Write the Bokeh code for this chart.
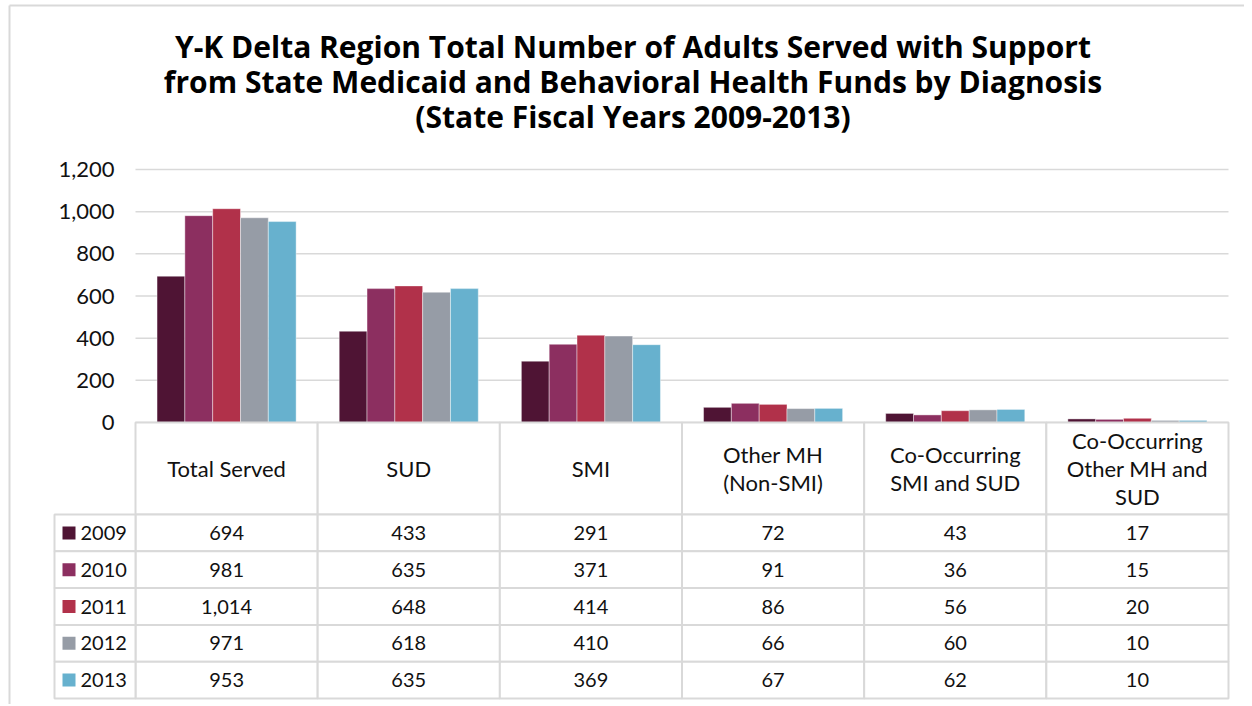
from bokeh.plotting import figure
from bokeh.models import Range1d, NumeralTickFormatter, FixedTicker, ColumnDataSource
from bokeh.transform import dodge
from bokeh.embed import file_html
from bokeh.resources import INLINE
from bokeh.core.properties import value

# ---------------- data ----------------
title_lines = [
    "Y-K Delta Region Total Number of Adults Served with Support",
    "from State Medicaid and Behavioral Health Funds by Diagnosis",
    "(State Fiscal Years 2009-2013)",
]
categories = ["Total Served", "SUD", "SMI", "Other MH (Non-SMI)",
              "Co-Occurring SMI and SUD", "Co-Occurring Other MH and SUD"]
header_labels = ["Total Served", "SUD", "SMI", "Other MH\n(Non-SMI)",
                 "Co-Occurring\nSMI and SUD", "Co-Occurring\nOther MH and\nSUD"]
years = ["2009", "2010", "2011", "2012", "2013"]
values_2009 = [694, 433, 291, 72, 43, 17]
values_2010 = [981, 635, 371, 91, 36, 15]
values_2011 = [1014, 648, 414, 86, 56, 20]
values_2012 = [971, 618, 410, 66, 60, 10]
values_2013 = [953, 635, 369, 67, 62, 10]
series = [values_2009, values_2010, values_2011, values_2012, values_2013]
y_ticks = [0, 200, 400, 600, 800, 1000, 1200]
y_max = 1200

# ---------------- style ----------------
colors = ["#4f1434", "#8c2f60", "#b1314a", "#969ca6", "#67b1ce"]
FONT = "Lato"
TITLE_FONT = "Open Sans"
TEXT = "#111111"
GRID = "#d9d9d9"

# ---------------- layout constants (pixels) ----------------
W, H = 1244, 704
CAT_L, CAT_R = 135, 1228   # horizontal extent of the category area
GRID_TOP = 169             # vertical pixel of y_max
ZERO_PX = 422              # vertical pixel of value 0 (top of table)
TABLE_B = 698              # bottom of the table
ROW_PX = 36.8              # height of a data row in the table
LEGEND_PX = 81             # width of the legend column of the table
BAR_FRAC = 0.1527          # bar width as a fraction of a category
TITLE_X, TITLE_Y = 632.5, 81
BORDER_X, BORDER_Y = 9, 5

n_cat = len(categories)
n_yr = len(years)
col_px = (CAT_R - CAT_L) / n_cat
val_per_px = y_max / (ZERO_PX - GRID_TOP)


def px_x(px):
    return (px - CAT_L) / col_px


def px_y(py):
    return (ZERO_PX - py) * val_per_px


def px_row(py):
    return (TABLE_B - py) / ROW_PX


legend_col = LEGEND_PX / col_px
header_rows = px_row(ZERO_PX) - n_yr

p = figure(width=W, height=H, x_range=Range1d(px_x(0), px_x(W)),
           y_range=Range1d(px_y(H), px_y(0)), output_backend="svg", toolbar_location=None,
           min_border_left=0, min_border_right=0, min_border_top=0, min_border_bottom=0)
p.extra_y_ranges = {"table": Range1d(px_row(H), px_row(0))}
p.title.visible = False
p.xaxis.visible = False
p.grid.visible = False
p.outline_line_color = None

# outer light frame
p.segment(x0=[px_x(BORDER_X)] * 2, y0=[px_y(BORDER_Y)] * 2,
          x1=[px_x(W), px_x(BORDER_X)], y1=[px_y(BORDER_Y), px_y(H)],
          line_color=GRID, line_width=2)

# y axis placed at the left edge of the categories
p.yaxis.fixed_location = 0
p.yaxis.ticker = FixedTicker(ticks=y_ticks)
p.yaxis.formatter = NumeralTickFormatter(format="0,0")
p.yaxis.axis_line_color = None
p.yaxis.major_tick_line_color = None
p.yaxis.minor_tick_line_color = None
p.yaxis.major_label_text_font = FONT
p.yaxis.major_label_text_font_size = "22px"
p.yaxis.major_label_text_color = TEXT
p.yaxis.major_label_standoff = 15

# title
p.text(x=[px_x(TITLE_X)], y=[px_y(TITLE_Y)], text=["\n".join(title_lines)],
       text_align="center", text_baseline="middle", text_font=value(TITLE_FONT),
       text_font_size="30px", text_font_style="bold", text_color="#000000",
       text_line_height=0.86)

# gridlines across the category area
p.segment(x0=0, x1=n_cat, y0=y_ticks, y1=y_ticks, line_color=GRID, line_width=1.5)

# bars
col_centers = [i + 0.5 for i in range(n_cat)]
data = dict(xc=col_centers, cat=categories, header=header_labels)
for yr, s in zip(years, series):
    data[yr] = s
src = ColumnDataSource(data)
offsets = [(k - (n_yr - 1) / 2) * BAR_FRAC for k in range(n_yr)]
for yr, col, off in zip(years, colors, offsets):
    p.vbar(x=dodge("xc", off), top=yr, width=BAR_FRAC, source=src,
           fill_color=col, line_color="white", line_width=0.6, line_alpha=0.7)

# table: header row
p.quad(left=[i for i in range(n_cat)], right=[i + 1 for i in range(n_cat)],
       bottom=n_yr, top=n_yr + header_rows, y_range_name="table",
       fill_color="white", line_color=GRID, line_width=2)
p.text(x="xc", y=n_yr + header_rows / 2, text="header", source=src, y_range_name="table",
       text_align="center", text_baseline="middle", text_font=value(FONT),
       text_font_size="22px", text_color=TEXT, text_line_height=1.04)

# table: data rows
row_centers = [n_yr - r - 0.5 for r in range(n_yr)]
cell_x, cell_y, cell_text = [], [], []
for r, s in enumerate(series):
    for i, v in enumerate(s):
        cell_x.append(col_centers[i])
        cell_y.append(row_centers[r])
        cell_text.append(f"{v:,}")

p.rect(x=cell_x, y=cell_y, width=1, height=1, y_range_name="table",
       fill_color="white", line_color=GRID, line_width=2)
p.rect(x=[-legend_col / 2] * n_yr, y=row_centers, width=legend_col, height=1,
       y_range_name="table", fill_color="white", line_color=GRID, line_width=2)
p.text(x=cell_x, y=cell_y, text=cell_text, y_range_name="table", text_align="center",
       text_baseline="middle", text_font=value(FONT), text_font_size="20px", text_color=TEXT)
p.scatter(x=[-legend_col + 14.5 / col_px] * n_yr, y=row_centers, y_range_name="table",
          marker="square", size=13, fill_color=colors, line_color=None)
p.text(x=[-legend_col + 26 / col_px] * n_yr, y=row_centers, text=years, y_range_name="table",
       text_align="left", text_baseline="middle", text_font=value(FONT),
       text_font_size="20px", text_color=TEXT)

open("out.html", "w").write(file_html(p, INLINE))
